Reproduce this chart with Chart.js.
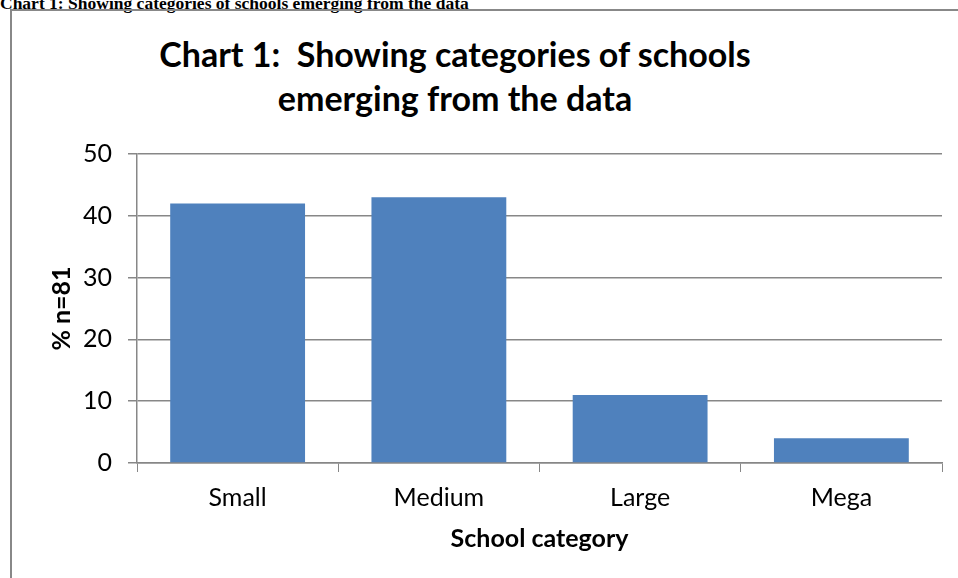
<!DOCTYPE html>
<html>
<head>
<meta charset="utf-8">
<script src="https://cdn.jsdelivr.net/npm/chart.js@4/dist/chart.umd.min.js"></script>
<style>
  body { margin: 0; width: 958px; height: 578px; overflow: hidden; background: #fff; position: relative; }
  #caption { position: absolute; left: 0; top: -7px; font: bold 17.5px "Liberation Serif", serif; line-height: 20px; color: #000; white-space: nowrap; }
  #frame { position: absolute; left: 10px; top: 9px; width: 1000px; height: 700px; border-left: 2px solid #888; border-top: 2px solid #888; }
  #title { position: absolute; left: 105px; width: 700px; top: 32px; text-align: center; font: bold 34px Lato, sans-serif; line-height: 44px; color: #000; }
  canvas { position: absolute; left: 0; top: 0; }
</style>
</head>
<body>
<div id="caption">Chart 1: Showing categories of schools emerging from the data</div>
<div id="frame"></div>
<div id="title">Chart 1:&nbsp; Showing categories of schools<br>emerging from the data</div>
<canvas id="chart" width="958" height="578"></canvas>
<script>
'use strict';
// values
let categories = ['Small', 'Medium', 'Large', 'Mega'];
let percents = [42, 43, 11, 4];
let yTicks = [0, 10, 20, 30, 40, 50];

let axisColor = '#878787';
let chartObj = document.getElementById('chart').getContext('2d');

let chart = new Chart(chartObj, {
  type: 'bar',
  data: {
    labels: categories,
    datasets: [{
      label: '% n=81',
      data: percents,
      backgroundColor: '#4F81BD',
      borderWidth: 0,
      categoryPercentage: 0.67,
      barPercentage: 1.0
    }]
  },
  options: {
    responsive: false,
    animation: false,
    layout: {
      padding: { left: 40, top: 154, right: 16, bottom: 15 }
    },
    plugins: {
      legend: { display: false },
      tooltip: { enabled: false }
    },
    scales: {
      x: {
        grid: { drawOnChartArea: false, drawTicks: true, tickLength: 9, color: axisColor, lineWidth: 1 },
        border: { color: axisColor, width: 1.5 },
        ticks: { color: '#000', padding: 11, font: { family: 'Lato', size: 25 } },
        title: {
          display: true,
          text: 'School category',
          color: '#000',
          padding: { top: 0, bottom: 9 },
          font: { family: 'Lato', size: 25, weight: 'bold' }
        },
        afterFit: function(scale) { scale.height = 100; }
      },
      y: {
        min: 0,
        max: 50,
        afterBuildTicks: function(scale) {
          scale.ticks = yTicks.map(v => ({ value: v }));
        },
        grid: { color: axisColor, lineWidth: 1.5, tickLength: 9 },
        border: { color: axisColor, width: 1.5 },
        ticks: { color: '#000', padding: 16, font: { family: 'Lato', size: 25 } },
        title: {
          display: true,
          text: '% n=81',
          color: '#000',
          padding: { top: 7, bottom: 0 },
          font: { family: 'Lato', size: 25, weight: 'bold' }
        },
        afterFit: function(scale) { scale.width = 97; }
      }
    }
  }
});
</script>
</body>
</html>
